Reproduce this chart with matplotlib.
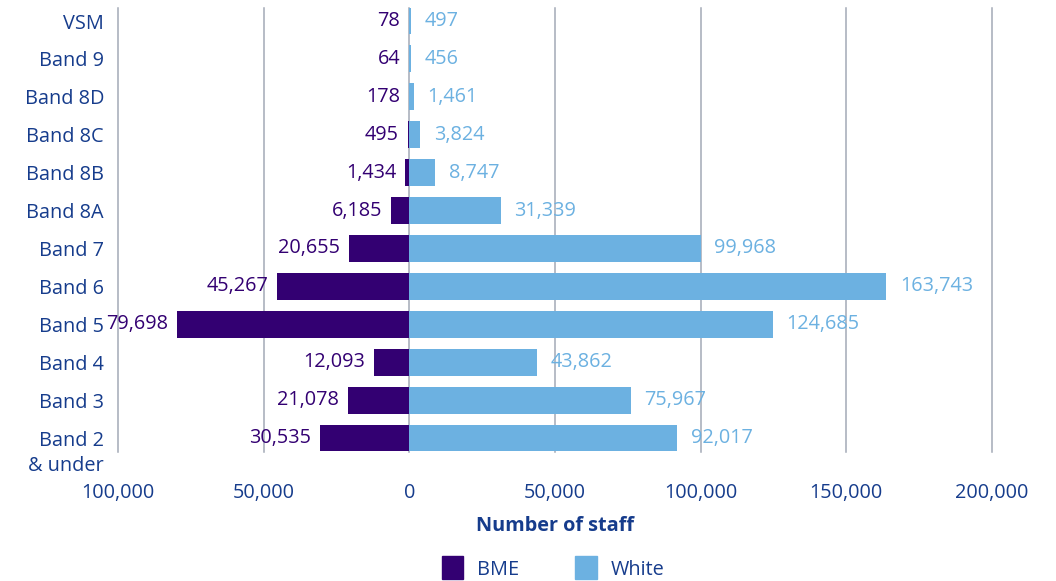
import matplotlib
matplotlib.use("Agg")
import matplotlib.pyplot as plt
from matplotlib.patches import Patch
from matplotlib.ticker import FuncFormatter

plt.rcParams['font.family'] = ['Open Sans', 'DejaVu Sans']

categories = ["Band 2\n& under", "Band 3", "Band 4", "Band 5", "Band 6", "Band 7",
              "Band 8A", "Band 8B", "Band 8C", "Band 8D", "Band 9", "VSM"]
bme = [30535, 21078, 12093, 79698, 45267, 20655, 6185, 1434, 495, 178, 64, 78]
white = [92017, 75967, 43862, 124685, 163743, 99968, 31339, 8747, 3824, 1461, 456, 497]
xticks = [-100000, -50000, 0, 50000, 100000, 150000, 200000]

C_BME = "#330072"
C_WHITE = "#6CB1E1"
C_TEXT = "#163C8C"
C_GRID = "#A3AAB6"

fig = plt.figure(figsize=(10.56, 5.81), dpi=100)
ax = fig.add_axes([118/1056, 1-452/581, (992-118)/1056, (452-8)/581])

y = list(range(len(categories)))
ax.barh(y, [-v for v in bme], height=0.71, color=C_BME, zorder=2)
ax.barh(y, white, height=0.71, color=C_WHITE, zorder=2)

fs = 14.3
for yi, b, w in zip(y, bme, white):
    ax.annotate(f"{b:,}", xy=(-b, yi), xytext=(-6.5, 0), textcoords="offset points",
                ha="right", va="center", color=C_BME, fontsize=fs)
    ax.annotate(f"{w:,}", xy=(w, yi), xytext=(10, 0), textcoords="offset points",
                ha="left", va="center", color=C_WHITE, fontsize=fs)

ax.set_xlim(-100000, 200000)
ax.set_ylim(-0.369, 11.343)
ax.set_xticks(xticks)
ax.xaxis.set_major_formatter(FuncFormatter(lambda v, p: f"{abs(int(v)):,}"))
ax.set_yticks(y)
first_lines = [c.split("\n")[0] for c in categories]
ax.set_yticklabels(first_lines)
ypad = 10
ax.tick_params(axis="both", length=0, labelsize=fs, labelcolor=C_TEXT)
ax.tick_params(axis="x", pad=22)
ax.tick_params(axis="y", pad=ypad)
# extra lines of multi-line category labels
for yi, c in zip(y, categories):
    for k, line in enumerate(c.split("\n")[1:], start=1):
        ax.annotate(line, xy=(0, yi), xycoords=("axes fraction", "data"),
                    xytext=(-ypad, -18 * k), textcoords="offset points",
                    ha="right", va="center_baseline", color=C_TEXT, fontsize=fs)

ax.grid(axis="x", color=C_GRID, linewidth=1.1, zorder=0)
for gl in ax.get_xgridlines():
    gl.set_clip_on(False)
ax.set_axisbelow(True)
for s in ax.spines.values():
    s.set_visible(False)

ax.set_xlabel("Number of staff", fontsize=fs, fontweight="bold", color=C_TEXT, labelpad=10)

handles = [Patch(color=C_BME, label="BME"), Patch(color=C_WHITE, label="White")]
fig.legend(handles=handles, loc="center", bbox_to_anchor=(553/1056, 1-568/581),
           ncol=2, frameon=False, fontsize=fs, labelcolor=C_TEXT,
           handlelength=1.1, handleheight=1.4, columnspacing=2.8, handletextpad=0.7)

fig.savefig("out.png", dpi=100)
